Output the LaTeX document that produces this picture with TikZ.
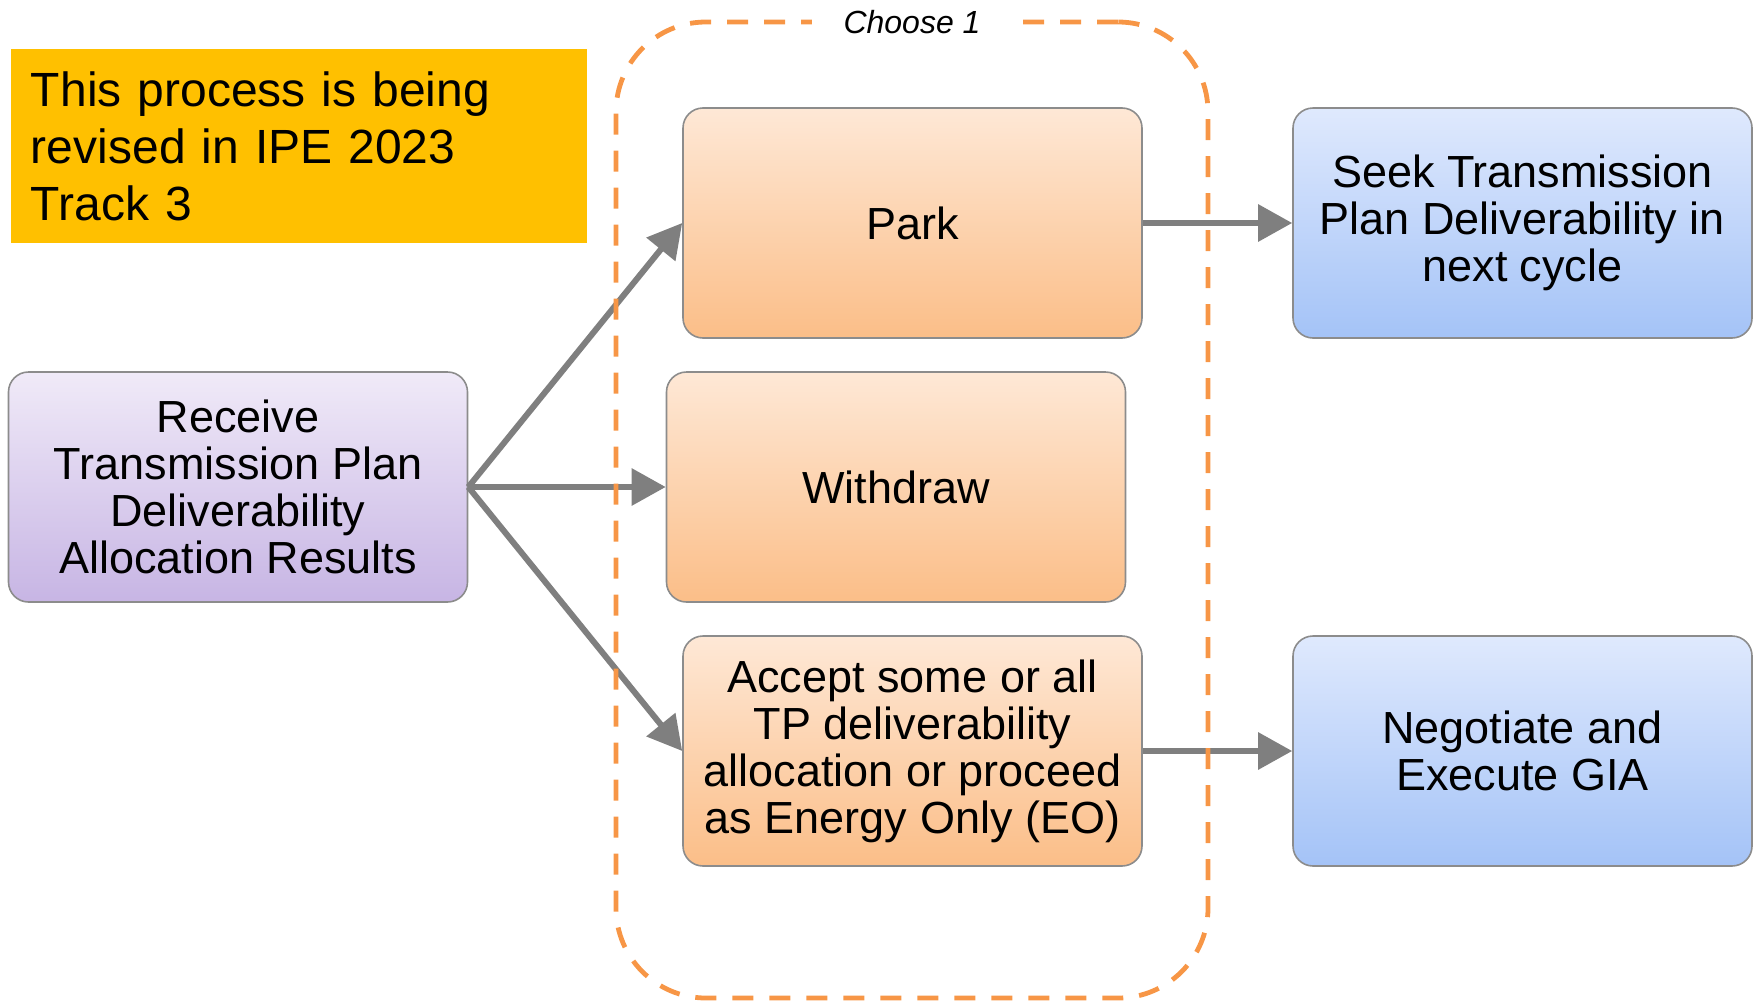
\documentclass[tikz,border=0pt]{standalone}
\usepackage{fontspec}
\setmainfont{Liberation Sans}
\usepackage{tikz}
\usetikzlibrary{arrows.meta}
\usetikzlibrary{positioning}

\definecolor{boxline}{HTML}{8C8C8C}
\definecolor{linkgray}{HTML}{7F7F7F}
\definecolor{dashorange}{HTML}{F79646}
\definecolor{noteyellow}{HTML}{FFC000}

\tikzset{
  box/.style={draw=boxline, line width=0.8pt, rounded corners=10pt,
    minimum width=229.5pt, minimum height=115pt, align=center,
    font=\fontsize{22.5}{23.5}\selectfont},
  option/.style={box, top color={rgb,255:red,254;green,232;blue,214}, bottom color={rgb,255:red,251;green,190;blue,136}},
  result/.style={box, top color={rgb,255:red,223;green,233;blue,253}, bottom color={rgb,255:red,164;green,195;blue,247}},
  start/.style={box, top color={rgb,255:red,240;green,234;blue,248}, bottom color={rgb,255:red,199;green,181;blue,228}},
  note/.style={fill=noteyellow, minimum width=288pt, minimum height=97pt,
    inner xsep=10pt, text width=268pt, align=left,
    font=\fontsize{24}{28.5}\selectfont},
  choice/.style={draw=dashorange, line width=2.4pt, rounded corners=45pt,
    dash pattern=on 10.5pt off 8pt, minimum width=296pt, minimum height=488pt}
}

\begin{document}
\begin{tikzpicture}[>={Triangle[length=17pt,width=18pt]},
      every edge/.style={draw=linkgray, line width=3pt},
      on grid]

    \useasboundingbox (0,0) rectangle (877pt,-500.5pt);

    \node[note]
      (Note) at (149.5pt,-73pt) {This process is being\\revised in IPE 2023\\Track 3};
    \node[start]
      (Receive) at (119pt,-243.5pt) {Receive\\Transmission Plan\\Deliverability\\Allocation Results};
    \node[option]
      (Withdraw) [right=329pt of Receive] {Withdraw};
    \node[option]
      (Park) [above right=132pt and 8.25pt of Withdraw] {Park};
    \node[option]
      (Accept) [below right=132pt and 8.25pt of Withdraw] {Accept some or all\\TP deliverability\\allocation or proceed\\as Energy Only (EO)};
    \node[result]
      (Seek) [right=305pt of Park] {Seek Transmission\\Plan Deliverability in\\next cycle};
    \node[result]
      (Negotiate) [right=305pt of Accept] {Negotiate and\\Execute GIA};

    \path[->]
      (Receive.east) edge (Park.west)
      (Receive.east) edge (Withdraw.west)
      (Receive.east) edge (Accept.west)
      (Park) edge (Seek)
      (Accept) edge (Negotiate);

    % dashed group round the three choices
    \node[choice]
      (Choice) at (456pt,-255pt) {};
    \node[fill=white, inner xsep=16pt, inner ysep=1pt, yshift=-1.2pt,
      font=\fontsize{16}{16}\selectfont\itshape]
      (ChoiceLabel) at (Choice.north) {Choose 1};

  \end{tikzpicture}
\end{document}
